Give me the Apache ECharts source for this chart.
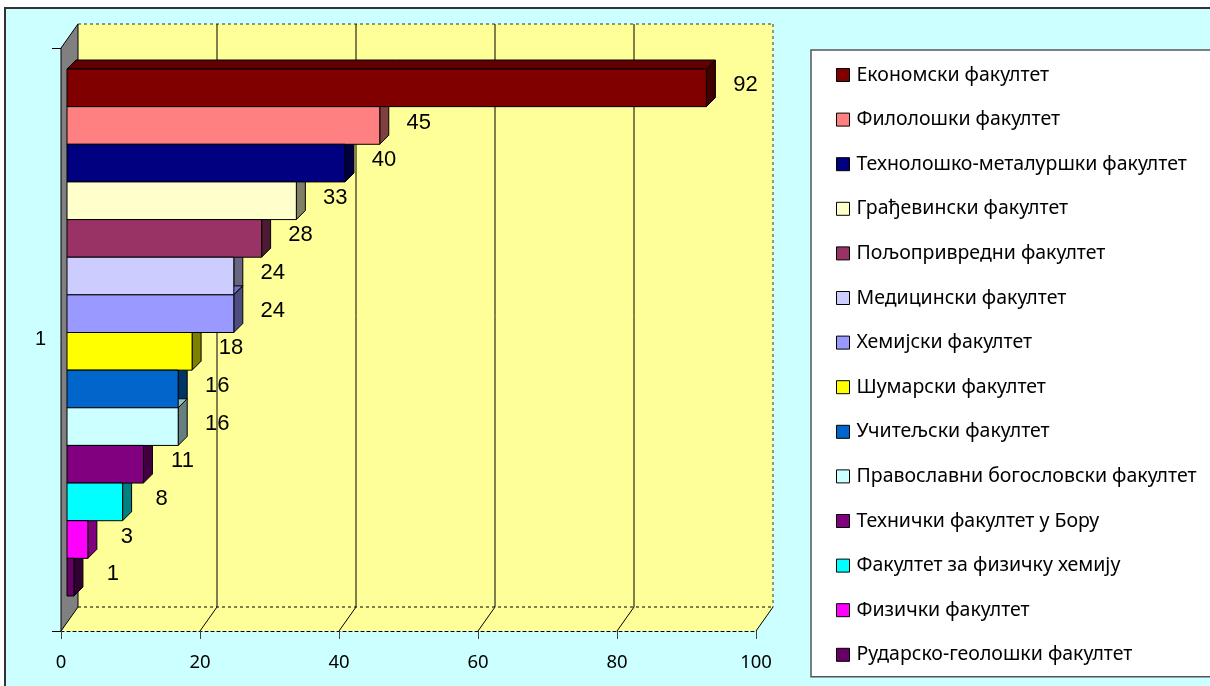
<!DOCTYPE html>
<html>
<head>
<meta charset="utf-8">
<title>Факултети</title>
<script src="https://cdn.jsdelivr.net/npm/echarts@6/dist/echarts.min.js"></script>
<style>
html, body { margin: 0; padding: 0; background: #fff; overflow: hidden; }
#main { width: 1210px; height: 686px; }
</style>
</head>
<body>
<div id="main"></div>
<script>
// једна категорија на y оси
var categories = ['1'];
// факултети, редом као у легенди
var faculties = [
	'Економски факултет',
	'Филолошки факултет',
	'Технолошко-металуршки факултет',
	'Грађевински факултет',
	'Пољопривредни факултет',
	'Медицински факултет',
	'Хемијски факултет',
	'Шумарски факултет',
	'Учитељски факултет',
	'Православни богословски факултет',
	'Технички факултет у Бору',
	'Факултет за физичку хемију',
	'Физички факултет',
	'Рударско-геолошки факултет'
];
var values = [92, 45, 40, 33, 28, 24, 24, 18, 16, 16, 11, 8, 3, 1];
var xTicks = [0, 20, 40, 60, 80, 100];
var colors = ['#800000', '#ff8080', '#000080', '#ffffcc', '#993366', '#ccccff', '#9999ff',
	'#ffff00', '#0066cc', '#ccffff', '#800080', '#00ffff', '#ff00ff', '#660066'];

// 3D "дубина" зида и стубића
var WALL_DX = 17, WALL_DY = 24;
var BAR_DX = 9, BAR_DY = 9;
var BAR_SHIFT = 6, BAR_TOP = 21, BAR_BOTTOM = 35;

function shade(hex, f){
	var n = parseInt(hex.slice(1), 16);
	var r = (n >> 16) & 255, g = (n >> 8) & 255, b = n & 255;
	return 'rgb(' + Math.round(r * f) + ',' + Math.round(g * f) + ',' + Math.round(b * f) + ')';
}

function line(x1, y1, x2, y2, dashed, color){
	return {
		type: 'line',
		shape: { x1: x1, y1: y1, x2: x2, y2: y2 },
		style: { stroke: color || '#000', lineWidth: 1, lineDash: dashed ? [3, 3] : null }
	};
}

// зидови, под и линије мреже
function renderWalls(params, api){
	var cs = params.coordSys;
	var left = cs.x, top = cs.y, right = cs.x + cs.width, bottom = cs.y + cs.height;
	var children = [];
	children.push({
		type: 'rect',
		shape: { x: left + WALL_DX, y: top - WALL_DY, width: cs.width, height: cs.height },
		style: { fill: '#ffff99' }
	});
	children.push({
		type: 'polygon',
		shape: { points: [[left, bottom], [left + WALL_DX, bottom - WALL_DY], [right + WALL_DX, bottom - WALL_DY], [right, bottom]] },
		style: { fill: '#ffff99' }
	});
	children.push({
		type: 'polygon',
		shape: { points: [[left, top], [left + WALL_DX, top - WALL_DY], [left + WALL_DX, bottom - WALL_DY], [left, bottom]] },
		style: { fill: '#808080', stroke: '#000', lineWidth: 1 }
	});
	children.push(line(left + WALL_DX, top - WALL_DY, right + WALL_DX, top - WALL_DY, true, '#333'));
	children.push(line(right + WALL_DX, top - WALL_DY, right + WALL_DX, bottom - WALL_DY, true, '#333'));
	children.push(line(left + WALL_DX, bottom - WALL_DY, right + WALL_DX, bottom - WALL_DY, true, '#000'));
	for (var i = 0; i < xTicks.length; i++) {
		var t = xTicks[i];
		var xf = api.coord([t, 0])[0];
		if (t > xTicks[0]) {
			children.push(line(xf, bottom, xf + WALL_DX, bottom - WALL_DY, false, '#000'));
		}
		if (t > xTicks[0] && t < xTicks[xTicks.length - 1]) {
			children.push(line(xf + WALL_DX, top - WALL_DY, xf + WALL_DX, bottom - WALL_DY, false, '#000'));
		}
	}
	return { type: 'group', children: children };
}

// један 3D стубић по серији
function barRenderer(idx){
	return function(params, api){
		var cs = params.coordSys;
		var v = api.value(0);
		var h = (cs.height - BAR_TOP - BAR_BOTTOM) / faculties.length;
		var y0 = cs.y + BAR_TOP + idx * h, y1 = y0 + h;
		var x0 = api.coord([0, 0])[0] + BAR_SHIFT;
		var x1 = api.coord([v, 0])[0] + BAR_SHIFT;
		var c = colors[idx];
		return {
			type: 'group',
			children: [{
				type: 'polygon',
				z2: 1,
				shape: { points: [[x0, y0], [x0 + BAR_DX, y0 - BAR_DY], [x1 + BAR_DX, y0 - BAR_DY], [x1, y0]] },
				style: { fill: shade(c, 0.75), stroke: '#000', lineWidth: 1 }
			}, {
				type: 'polygon',
				z2: 1,
				shape: { points: [[x1, y0], [x1 + BAR_DX, y0 - BAR_DY], [x1 + BAR_DX, y1 - BAR_DY], [x1, y1]] },
				style: { fill: shade(c, 0.5), stroke: '#000', lineWidth: 1 }
			}, {
				type: 'rect',
				z2: 5,
				shape: { x: x0, y: y0, width: x1 - x0, height: h },
				style: { fill: c, stroke: '#000', lineWidth: 1 }
			}, {
				type: 'text',
				z2: 6,
				x: x1 + BAR_DX + 30,
				y: (y0 + y1) / 2 - 3,
				style: {
					text: String(v),
					fill: '#000',
					font: '22px "Liberation Sans", Arial, sans-serif',
					align: 'center',
					verticalAlign: 'middle'
				}
			}]
		};
	};
}

var series = [{
	type: 'custom',
	name: 'walls',
	silent: true,
	z: 1,
	data: [[0, 0]],
	encode: { x: 0, y: 1 },
	renderItem: renderWalls
}];
for (var i = 0; i < faculties.length; i++) {
	series.push({
		type: 'custom',
		name: faculties[i],
		z: 2,
		itemStyle: { color: colors[i] },
		data: [[values[i], 0]],
		encode: { x: 0, y: 1 },
		renderItem: barRenderer(i)
	});
}

var chart = echarts.init(document.getElementById('main'));
chart.setOption({
	backgroundColor: '#fff',
	animation: false,
	graphic: {
		elements: [{
			type: 'rect',
			z: -100,
			silent: true,
			shape: { x: 5, y: 8, width: 1230, height: 700 },
			style: { fill: '#ccffff', stroke: '#333', lineWidth: 2 }
		}]
	},
	grid: { left: 61, top: 48, width: 695, height: 583 },
	xAxis: {
		type: 'value',
		min: 0,
		max: 100,
		interval: 20,
		splitLine: { show: false },
		axisLine: { show: true, lineStyle: { color: '#000', width: 1, type: [3, 3] } },
		axisTick: { show: true, length: 8, lineStyle: { color: '#404040' } },
		axisLabel: { margin: 22, color: '#000', fontSize: 18.5, fontFamily: 'Noto Sans' }
	},
	yAxis: {
		type: 'category',
		data: categories,
		axisLine: { show: true, lineStyle: { color: '#000' } },
		axisTick: { show: true, length: 9, lineStyle: { color: '#000' } },
		axisLabel: { margin: 15, color: '#000', fontSize: 20, fontFamily: 'Liberation Sans', padding: [6, 0, 0, 0] }
	},
	legend: {
		data: faculties,
		orient: 'vertical',
		left: 811,
		top: 50,
		height: 620,
		padding: [15, 40, 12, 25],
		itemWidth: 13,
		itemHeight: 13,
		itemGap: 24.6,
		icon: 'rect',
		backgroundColor: '#fff',
		borderColor: '#555',
		borderWidth: 1.5,
		itemStyle: { borderColor: '#000', borderWidth: 1 },
		textStyle: { fontFamily: 'Noto Sans', fontSize: 19.5, lineHeight: 19, color: '#000', padding: [0, 0, 0, 2] }
	},
	series: series
});
</script>
</body>
</html>
